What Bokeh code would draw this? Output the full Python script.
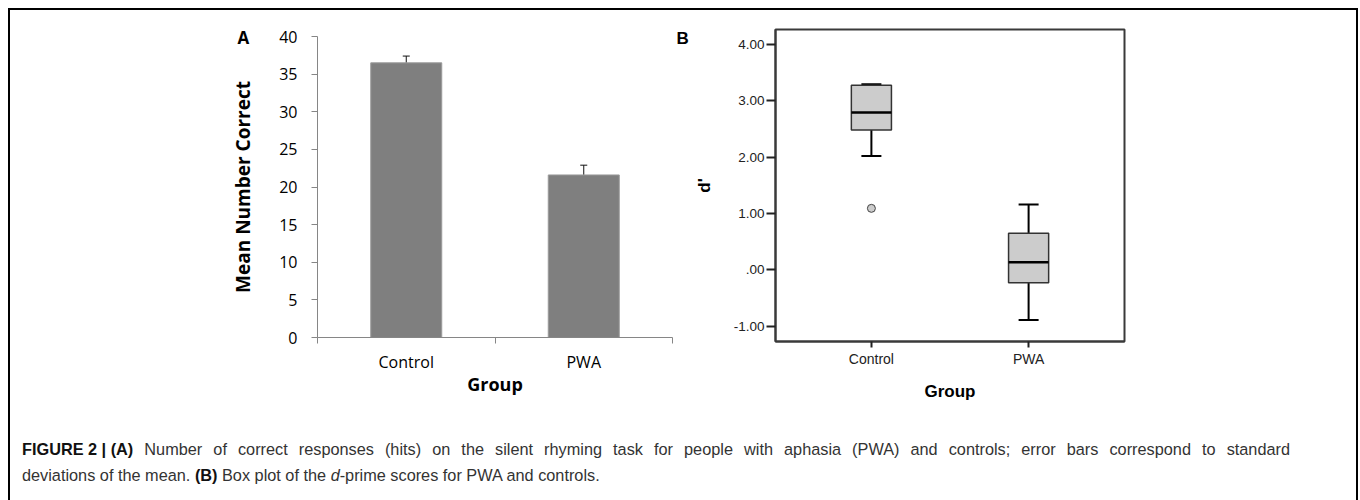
from bokeh.plotting import figure
from bokeh.models import Range1d, FixedTicker, Whisker, TeeHead, ColumnDataSource, Div
from bokeh.layouts import row, column
from bokeh.embed import file_html
from bokeh.resources import INLINE

# ---------------- data ----------------
groups = ["Control", "PWA"]

# Panel A: mean number correct and standard deviation (upper error bar)
mean_correct = [36.5, 21.6]
sd_correct = [0.9, 1.3]
count_ticks = [0, 5, 10, 15, 20, 25, 30, 35, 40]

# Panel B: d-prime box plot summary
d_q1 = [2.48, -0.23]
d_median = [2.79, 0.135]
d_q3 = [3.27, 0.65]
d_whisker_low = [2.02, -0.89]
d_whisker_high = [3.29, 1.16]
d_outlier_group = ["Control"]
d_outlier_value = [1.09]
d_ticks = [-1, 0, 1, 2, 3, 4]
d_tick_labels = ["-1.00", ".00", "1.00", "2.00", "3.00", "4.00"]

caption_prefix = "FIGURE 2 | (A)"
caption_a = ("Number of correct responses (hits) on the silent rhyming task for people with "
             "aphasia (PWA) and controls; error bars correspond to standard")
caption_a2 = "deviations of the mean."
caption_b = "Box plot of the"
caption_b2 = "-prime scores for PWA and controls."

CAL = "Open Sans"
ARI = "Liberation Sans"


def panel_title(p, text, font, offset, standoff):
    p.title.text = text
    p.title.align = "left"
    p.title.offset = offset
    p.title.standoff = standoff
    p.title.text_font = font
    p.title.text_font_style = "bold"
    p.title.text_font_size = "17px"
    p.title.text_color = "#000000"


# ---------------- panel A ----------------
xa = [i + 0.5 for i in range(len(groups))]
srcA = ColumnDataSource(dict(
    x=xa, mean=mean_correct,
    upper=[m + s for m, s in zip(mean_correct, sd_correct)],
))

pA = figure(width=523, height=420, x_range=Range1d(0, len(groups)), y_range=Range1d(0, 40),
            output_backend="svg", toolbar_location=None, title="A",
            min_border_left=167, min_border_right=1, min_border_top=26, min_border_bottom=93,
            outline_line_color=None)
panel_title(pA, "A", CAL, -80, -24)
pA.grid.visible = False
pA.vbar(x="x", top="mean", bottom=0, width=0.4, source=srcA,
        fill_color="#7f7f7f", line_color="#9a9a9a", line_width=1)
pA.add_layout(Whisker(base="x", lower="mean", upper="upper", source=srcA, dimension="height",
                      line_color="#111111", line_width=1,
                      upper_head=TeeHead(size=7, line_color="#111111", line_width=1),
                      lower_head=None))

xa_ax = pA.xaxis[0]
xa_ax.ticker = FixedTicker(ticks=xa, minor_ticks=list(range(len(groups) + 1)))
xa_ax.major_label_overrides = {x: g for x, g in zip(xa, groups)}
xa_ax.major_tick_out = 0
xa_ax.major_tick_in = 0
xa_ax.minor_tick_out = 6
xa_ax.minor_tick_in = 0
xa_ax.minor_tick_line_color = "#868686"
xa_ax.axis_label = "Group"
xa_ax.major_label_standoff = 7
xa_ax.axis_label_standoff = -4

ya_ax = pA.yaxis[0]
ya_ax.ticker = FixedTicker(ticks=count_ticks)
ya_ax.major_tick_out = 6
ya_ax.major_tick_in = 0
ya_ax.minor_tick_line_color = None
ya_ax.axis_label = "Mean Number Correct"
ya_ax.major_label_standoff = 14
ya_ax.axis_label_standoff = 20

for ax in (xa_ax, ya_ax):
    ax.axis_line_color = "#868686"
    ax.major_tick_line_color = "#868686"
    ax.major_label_text_font = CAL
    ax.major_label_text_font_size = "16px"
    ax.major_label_text_color = "#000000"
    ax.axis_label_text_font = CAL
    ax.axis_label_text_font_style = "bold"
    ax.axis_label_text_font_size = "18px"
    ax.axis_label_text_color = "#000000"
ya_ax.axis_label_text_font_size = "19px"

# ---------------- panel B ----------------
xb = [i + 1 for i in range(len(groups))]
pB = figure(width=477, height=420, x_range=Range1d(0.39, 2.61), y_range=Range1d(-1.27, 4.26),
            output_backend="svg", toolbar_location=None, title="B",
            min_border_left=102, min_border_right=26, min_border_top=19, min_border_bottom=89,
            outline_line_color="#3a3a3a", outline_line_width=2)
panel_title(pB, "B", ARI, -99, -36)
pB.grid.visible = False

pB.segment(x0=xb, x1=xb, y0=d_q3, y1=d_whisker_high, line_color="#000000", line_width=2)
pB.segment(x0=xb, x1=xb, y0=d_q1, y1=d_whisker_low, line_color="#000000", line_width=2)
pB.scatter(x=xb, y=d_whisker_high, marker="dash", size=20, line_color="#000000", line_width=2)
pB.scatter(x=xb, y=d_whisker_low, marker="dash", size=20, line_color="#000000", line_width=2)
pB.vbar(x=xb, width=0.255, bottom=d_q1, top=d_q3, fill_color="#cccccc",
        line_color="#333333", line_width=1.5)
pB.scatter(x=xb, y=d_median, marker="dash", size=40, line_color="#000000", line_width=2.5)
pB.scatter(x=[xb[groups.index(g)] for g in d_outlier_group], y=d_outlier_value,
           marker="circle", size=8, fill_color="#cccccc", line_color="#444444", line_width=1)

xb_ax = pB.xaxis[0]
xb_ax.ticker = FixedTicker(ticks=xb)
xb_ax.major_label_overrides = {x: g for x, g in zip(xb, groups)}
xb_ax.major_tick_out = 6
xb_ax.major_label_standoff = 3
xb_ax.axis_label = "Group"
xb_ax.axis_label_standoff = 12

yb_ax = pB.yaxis[0]
yb_ax.ticker = FixedTicker(ticks=d_ticks)
yb_ax.major_label_overrides = {t: s for t, s in zip(d_ticks, d_tick_labels)}
yb_ax.major_tick_out = 9
yb_ax.major_label_standoff = 2
yb_ax.axis_label = "d'"
yb_ax.axis_label_standoff = 17

for ax in (xb_ax, yb_ax):
    ax.axis_line_color = "#3a3a3a"
    ax.axis_line_width = 2
    ax.major_tick_in = 0
    ax.major_tick_line_color = "#222222"
    ax.major_tick_line_width = 2
    ax.minor_tick_line_color = None
    ax.major_label_text_font = ARI
    ax.major_label_text_font_size = "14px"
    ax.major_label_text_color = "#222222"
    ax.axis_label_text_font = ARI
    ax.axis_label_text_font_style = "bold"
    ax.axis_label_text_font_size = "17px"
    ax.axis_label_text_color = "#000000"
yb_ax.major_label_text_font_size = "13.5px"

# ---------------- caption & frame ----------------
caption_html = (
    '<div style="font-family:\'Liberation Sans\',Arial,sans-serif;font-size:16.3px;color:#333333;'
    'line-height:26px;padding:6px 0 0 12px;">'
    '<div style="width:1268px;text-align:justify;text-align-last:justify;">'
    '<b style="color:#111;display:inline-block;">' + caption_prefix + '</b> ' + caption_a + '</div>'
    '<div style="white-space:nowrap;">' + caption_a2 +
    ' <b style="color:#111">(B)</b> ' + caption_b + ' <i>d</i>' + caption_b2 + '</div></div>'
)
caption = Div(text=caption_html, width=1346, height=70, margin=0)


def bar(w, h):
    return Div(text="", width=w, height=h, margin=0, styles={"background-color": "#000000"})


def gap(w, h):
    return Div(text="", width=w, height=h, margin=0)


# each panel wrapped in its own column so that the two frames are laid out independently
top_row = row(gap(140, 420), column(pA, spacing=0), column(pB, spacing=0), gap(206, 420), spacing=0)
content = column(top_row, caption, spacing=0)
framed = column(bar(1350, 2), row(bar(2, 490), content, bar(2, 490), spacing=0), spacing=0)
layout = column(gap(1358, 8), row(gap(8, 492), framed, spacing=0), spacing=0)

open("out.html", "w").write(file_html(layout, INLINE))
